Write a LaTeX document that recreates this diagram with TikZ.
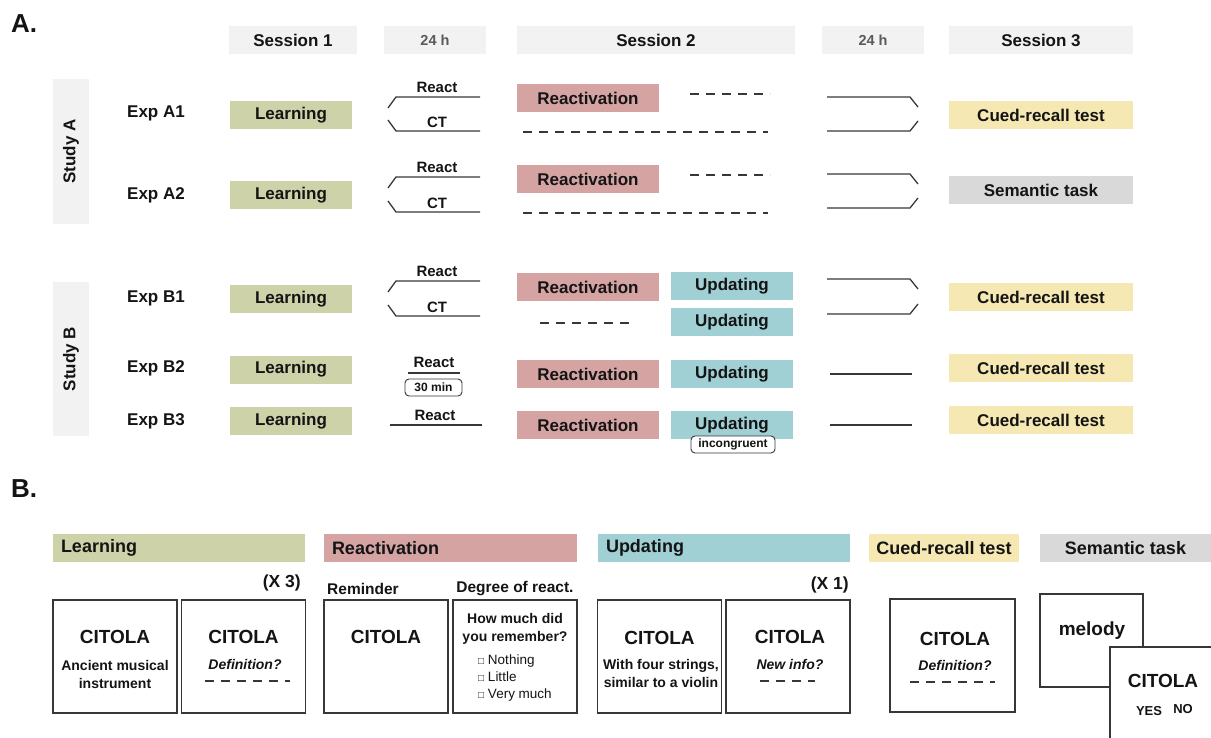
\documentclass[tikz,border=0pt]{standalone}
\usepackage{fontspec}
\setmainfont{Liberation Sans}
\usetikzlibrary{positioning}

\definecolor{hdgray}{RGB}{242,242,242}
\definecolor{hgtext}{RGB}{90,90,90}
\definecolor{lrn}{RGB}{206,210,168}
\definecolor{rea}{RGB}{212,163,162}
\definecolor{upd}{RGB}{160,207,212}
\definecolor{rec}{RGB}{245,232,178}
\definecolor{sem}{RGB}{217,217,217}
\definecolor{ink}{RGB}{55,55,55}
\definecolor{txt}{RGB}{20,20,20}

\tikzset{
  every node/.style={inner sep=0pt, text=txt},
  fbig/.style={font=\bfseries\fontsize{17}{20}\selectfont},
  fsm/.style={font=\bfseries\fontsize{15}{18}\selectfont},
  hd/.style={fbig, fill=hdgray, minimum height=28},
  hgap/.style={text=hgtext, font=\bfseries\fontsize{14.5}{17}\selectfont},
  phase/.style={fbig, minimum height=28},
  lrnbox/.style={phase, fill=lrn, minimum width=122},
  reabox/.style={phase, fill=rea, minimum width=142},
  updbox/.style={phase, fill=upd, minimum width=122},
  recbox/.style={phase, fill=rec, minimum width=184},
  sembox/.style={phase, fill=sem, minimum width=184},
  conn/.style={draw=ink, line width=1.3},
  dsh/.style={draw=ink, line width=1.3, dash pattern=on 9pt off 7pt},
  tag/.style={draw=ink, fill=white, rounded corners=4, line width=0.9,
    minimum height=17, font=\bfseries\fontsize{12}{14}\selectfont},
  panel/.style={font=\bfseries\fontsize{26}{30}\selectfont},
  bar/.style={minimum height=28},
  fbar/.style={font=\bfseries\fontsize{18}{21}\selectfont},
  card/.style={draw=ink, line width=1.5, minimum width=124, minimum height=113},
  fcit/.style={font=\bfseries\fontsize{19}{22}\selectfont},
  fdesc/.style={align=center, font=\bfseries\fontsize{14}{18}\selectfont},
  fital/.style={font=\bfseries\itshape\fontsize{14}{17}\selectfont},
  fsub/.style={font=\bfseries\fontsize{15.5}{18}\selectfont},
  frep/.style={font=\bfseries\fontsize{17.5}{20}\selectfont},
  fopt/.style={align=left, font=\fontsize{13.5}{16.8}\selectfont}
}

\begin{document}
\begin{tikzpicture}[x=1pt,y=-1pt]
\useasboundingbox (0,0) rectangle (1211,738);

%% A: design of the experiments
\node[panel] (pA) at (24,24) {A.};

% session header
\node[hd, minimum width=128] (s1) at (293,40) {Session 1};
\node[hd, minimum width=102, hgap] (h1) at (435,40) {24 h};
\node[hd, minimum width=278] (s2) at (656,40) {Session 2};
\node[hd, minimum width=102, hgap] (h2) at (873,40) {24 h};
\node[hd, minimum width=184] (s3) at (1041,40) {Session 3};

% studies
\node[hd, rotate=90, minimum width=145, minimum height=36] (stA) at (71,151.5) {Study A};
\node[hd, rotate=90, minimum width=154, minimum height=36] (stB) at (71,359) {Study B};

\foreach \e/\y in {A1/113,A2/195,B1/298,B2/368,B3/421}
  \node[fbig, anchor=west] (e\e) at (127,\y) {Exp \e};

% session 1
\foreach \e/\y in {A1/115,A2/195.5,B1/299,B2/369.5,B3/421}
  \node[lrnbox] (l\e) at (291,\y) {Learning};

% react / CT split
\foreach \e/\a/\b in {A1/97/131,A2/177/212,B1/281/316}{
  \draw[conn] (388,\a+11) -- (396,\a) -- (480,\a);
  \draw[conn] (388,\b-11) -- (396,\b) -- (480,\b);
  \node[fsm] (r\e) at (437,\a-10) {React};
  \node[fsm] (c\e) at (437,\b-9) {CT};
}
\node[fsm] (rB2) at (434,362) {React};
\draw[conn] (408,373) -- (460,373);
\node[tag, minimum width=57] (tB2) at (433.5,387.5) {30 min};
\node[fsm] (rB3) at (435,415) {React};
\draw[conn] (390,425) -- (482,425);

% session 2
\node[reabox] (vA1) at (588,98) {Reactivation};
\draw[dsh] (690,94) -- (770,94);
\draw[dsh] (523,132) -- (768,132);
\node[reabox] (vA2) at (588,179) {Reactivation};
\draw[dsh] (690,175) -- (770,175);
\draw[dsh] (523,213) -- (768,213);
\node[reabox] (vB1) at (588,287) {Reactivation};
\node[updbox] (uB1) at (732,286) {Updating};
\draw[dsh] (540,323) -- (634,323);
\node[updbox] (uB1c) at (732,322) {Updating};
\node[reabox] (vB2) at (588,374) {Reactivation};
\node[updbox] (uB2) at (732,374) {Updating};
\node[reabox] (vB3) at (588,425) {Reactivation};
\node[updbox] (uB3) at (732,425) {Updating};
\node[tag, minimum width=84] (tB3) at (733,444.5) {incongruent};

% join before session 3
\foreach \a/\b in {97/131,174/208,279/314}{
  \draw[conn] (827,\a) -- (910,\a) -- (918,\a+10);
  \draw[conn] (827,\b) -- (910,\b) -- (918,\b-10);
}
\draw[conn] (830,374) -- (912,374);
\draw[conn] (830,425) -- (912,425);

% session 3
\node[recbox] (tA1) at (1041,115) {Cued-recall test};
\node[sembox] (tA2) at (1041,190) {Semantic task};
\node[recbox] (tB1) at (1041,297) {Cued-recall test};
\node[recbox] (tB2r) at (1041,368) {Cued-recall test};
\node[recbox] (tB3r) at (1041,420) {Cued-recall test};

%% B: the tasks
\node[panel] (pB) at (24,489) {B.};

\node[bar, fill=lrn, minimum width=252] (bL) at (179,548) {};
\node[fbar, anchor=west] at ([xshift=8]bL.west) {Learning};
\node[bar, fill=rea, minimum width=253] (bR) at (450.5,548) {};
\node[fbar, anchor=west] at ([xshift=8]bR.west) {Reactivation};
\node[bar, fill=upd, minimum width=252] (bU) at (724,548) {};
\node[fbar, anchor=west] at ([xshift=8]bU.west) {Updating};
\node[bar, fbar, fill=rec, minimum width=150] (bC) at (944,548) {Cued-recall test};
\node[bar, fbar, fill=sem, minimum width=171] (bS) at (1125.5,548) {Semantic task};

% learning
\node[frep, anchor=east] (x3) at (301,583) {(X 3)};
\node[card] (cL1) at (115,656.5) {};
\node[fcit] at (115,637) {CITOLA};
\node[fdesc] at (115,674) {Ancient musical\\instrument};
\node[card] (cL2) at (243.5,656.5) {};
\node[fcit] at (243.5,637) {CITOLA};
\node[fital] at (245,664) {Definition?};
\draw[dsh] (205,681) -- (290,681);

% reactivation
\node[fsub, anchor=west] (rem) at (327,589) {Reminder};
\node[fsub] (deg) at (515,589) {Degree of react.};
\node[card] (cR1) at (386,656.5) {};
\node[fcit] at (386,637) {CITOLA};
\node[card] (cR2) at (515,656.5) {};
\node[fdesc] at (515,629) {How much did\\you remember?};
\node[fopt, anchor=north west] at (478,655) {{\fontsize{10}{10}\selectfont □} Nothing\\{\fontsize{10}{10}\selectfont □} Little\\{\fontsize{10}{10}\selectfont □} Very much};

% updating
\node[frep, anchor=east] (x1) at (849,585) {(X 1)};
\node[card] (cU1) at (659.5,656.5) {};
\node[fcit] at (659.5,638) {CITOLA};
\node[fdesc] at (661,673) {With four strings,\\similar to a violin};
\node[card] (cU2) at (788,656.5) {};
\node[fcit] at (790,637) {CITOLA};
\node[fital] at (790,664) {New info?};
\draw[dsh] (760,681) -- (815,681);

% cued recall
\node[card, minimum width=125] (cC1) at (952.5,655.5) {};
\node[fcit] at (955,639) {CITOLA};
\node[fital] at (955,665) {Definition?};
\draw[dsh] (910,682) -- (995,682);

% semantic task
\node[card, minimum width=103, minimum height=93] (cS1) at (1091.5,640.5) {};
\node[fcit] at (1092,631) {melody};
\node[card, fill=white, minimum width=130, minimum height=120, anchor=north west] (cS2) at (1109,646) {};
\node[fcit] at (1163,681) {CITOLA};
\node[font=\bfseries\fontsize{13}{15}\selectfont] at (1149,711) {YES};
\node[font=\bfseries\fontsize{13}{15}\selectfont] at (1183,709) {NO};
\end{tikzpicture}
\end{document}
